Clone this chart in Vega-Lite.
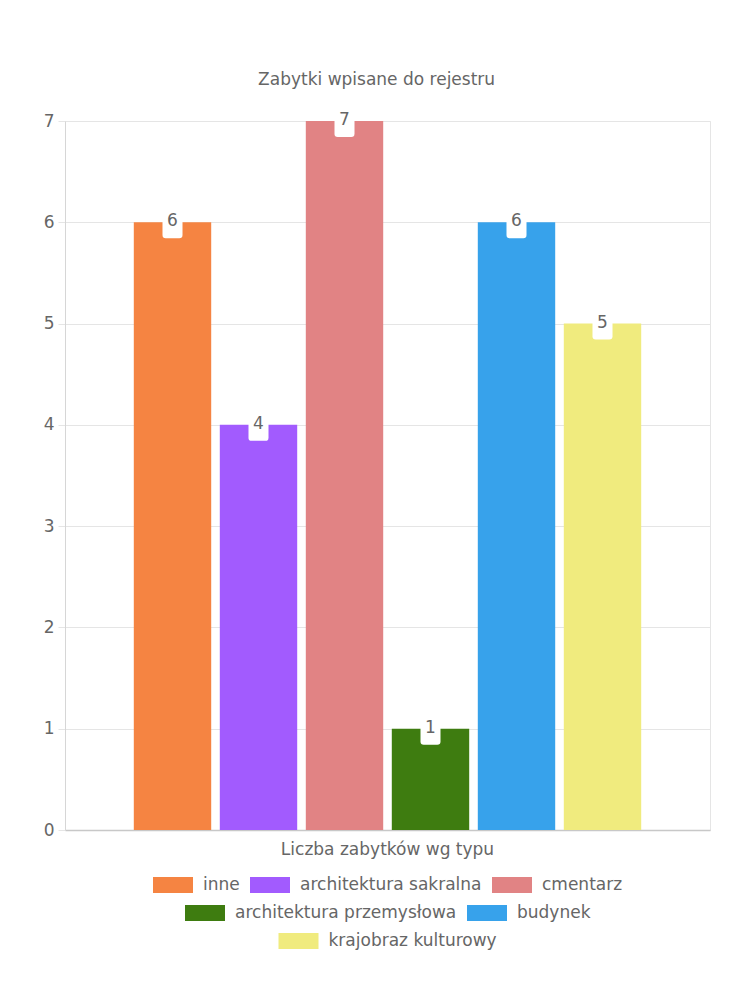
{
  "$schema": "https://vega.github.io/schema/vega-lite/v6.json",
  "width": 645,
  "height": 709,
  "autosize": {"type": "none"},
  "padding": {"left": 65, "top": 121, "right": 40, "bottom": 170},
  "background": "white",
  "title": {
    "text": "Zabytki wpisane do rejestru",
    "frame": "bounds",
    "anchor": "middle",
    "offset": 16,
    "fontSize": 17,
    "fontWeight": "normal",
    "color": "#666666",
    "font": "DejaVu Sans"
  },
  "data": {
    "values": [
      {"grupa": "Liczba zabytków wg typu", "typ": "inne", "liczba": 6, "wiersz": 1},
      {"grupa": "Liczba zabytków wg typu", "typ": "architektura sakralna", "liczba": 4, "wiersz": 1},
      {"grupa": "Liczba zabytków wg typu", "typ": "cmentarz", "liczba": 7, "wiersz": 1},
      {"grupa": "Liczba zabytków wg typu", "typ": "architektura przemysłowa", "liczba": 1, "wiersz": 2},
      {"grupa": "Liczba zabytków wg typu", "typ": "budynek", "liczba": 6, "wiersz": 2},
      {"grupa": "Liczba zabytków wg typu", "typ": "krajobraz kulturowy", "liczba": 5, "wiersz": 3}
    ]
  },
  "encoding": {
    "x": {
      "field": "grupa",
      "type": "nominal",
      "scale": {"paddingInner": 0, "paddingOuter": 0.125},
      "axis": {
        "title": null,
        "labelAngle": 0,
        "labelFontSize": 17,
        "labelColor": "#666666",
        "labelFont": "DejaVu Sans",
        "labelPadding": 11,
        "labelLimit": 500,
        "ticks": false,
        "domainColor": "#c8c8c8",
        "domainWidth": 1.5,
        "grid": false
      }
    },
    "xOffset": {
      "field": "typ",
      "type": "nominal",
      "scale": {
        "domain": ["inne", "architektura sakralna", "cmentarz", "architektura przemysłowa", "budynek", "krajobraz kulturowy"],
        "paddingInner": 0.1,
        "paddingOuter": 0.05
      }
    },
    "y": {
      "field": "liczba",
      "type": "quantitative",
      "scale": {"domain": [0, 7]},
      "axis": {
        "title": null,
        "values": [0, 1, 2, 3, 4, 5, 6, 7],
        "labelFontSize": 17,
        "labelColor": "#666666",
        "labelFont": "DejaVu Sans",
        "labelPadding": 4,
        "tickSize": 7,
        "tickColor": "#e5e5e5",
        "gridColor": "#e5e5e5",
        "domainColor": "#d6d6d6"
      }
    }
  },
  "layer": [
    {
      "transform": [{"filter": "datum.wiersz == 1"}],
      "mark": {"type": "bar"},
      "encoding": {
        "color": {
          "field": "typ",
          "type": "nominal",
          "scale": {"domain": ["inne", "architektura sakralna", "cmentarz"], "range": ["#f58442", "#a25bfe", "#e18384"]},
          "legend": {"title": null, "orient": "bottom", "direction": "horizontal", "offset": 8}
        }
      }
    },
    {
      "transform": [{"filter": "datum.wiersz == 2"}],
      "mark": {"type": "bar"},
      "encoding": {
        "color": {
          "field": "typ",
          "type": "nominal",
          "scale": {"domain": ["architektura przemysłowa", "budynek"], "range": ["#3e7c10", "#37a2eb"]},
          "legend": {"title": null, "orient": "bottom", "direction": "horizontal"}
        }
      }
    },
    {
      "transform": [{"filter": "datum.wiersz == 3"}],
      "mark": {"type": "bar"},
      "encoding": {
        "color": {
          "field": "typ",
          "type": "nominal",
          "scale": {"domain": ["krajobraz kulturowy"], "range": ["#f0eb7e"]},
          "legend": {"title": null, "orient": "bottom", "direction": "horizontal"}
        }
      }
    },
    {
      "mark": {
        "type": "point",
        "shape": "M-0.625,-1 H0.625 V0.8 Q0.625,1 0.425,1 H-0.425 Q-0.625,1 -0.625,0.8 Z",
        "size": 1024,
        "filled": true,
        "color": "white",
        "opacity": 1,
        "strokeWidth": 0
      }
    },
    {
      "mark": {"type": "text", "fontSize": 17, "color": "#666666", "font": "DejaVu Sans", "baseline": "middle", "dy": -1},
      "encoding": {"text": {"field": "liczba", "type": "quantitative"}}
    }
  ],
  "resolve": {"scale": {"color": "independent"}, "legend": {"color": "independent"}},
  "config": {
    "view": {"stroke": "#e5e5e5"},
    "legend": {
      "symbolType": "M-1,-0.4 H1 V0.4 H-1 Z",
      "symbolSize": 1600,
      "symbolStrokeWidth": 0,
      "symbolOpacity": 1,
      "labelFontSize": 17,
      "labelColor": "#666666",
      "labelFont": "DejaVu Sans",
      "labelOffset": 10,
      "labelLimit": 400,
      "columnPadding": 10,
      "layout": {"bottom": {"anchor": "middle", "direction": "vertical", "center": true, "margin": -8}}
    }
  }
}
